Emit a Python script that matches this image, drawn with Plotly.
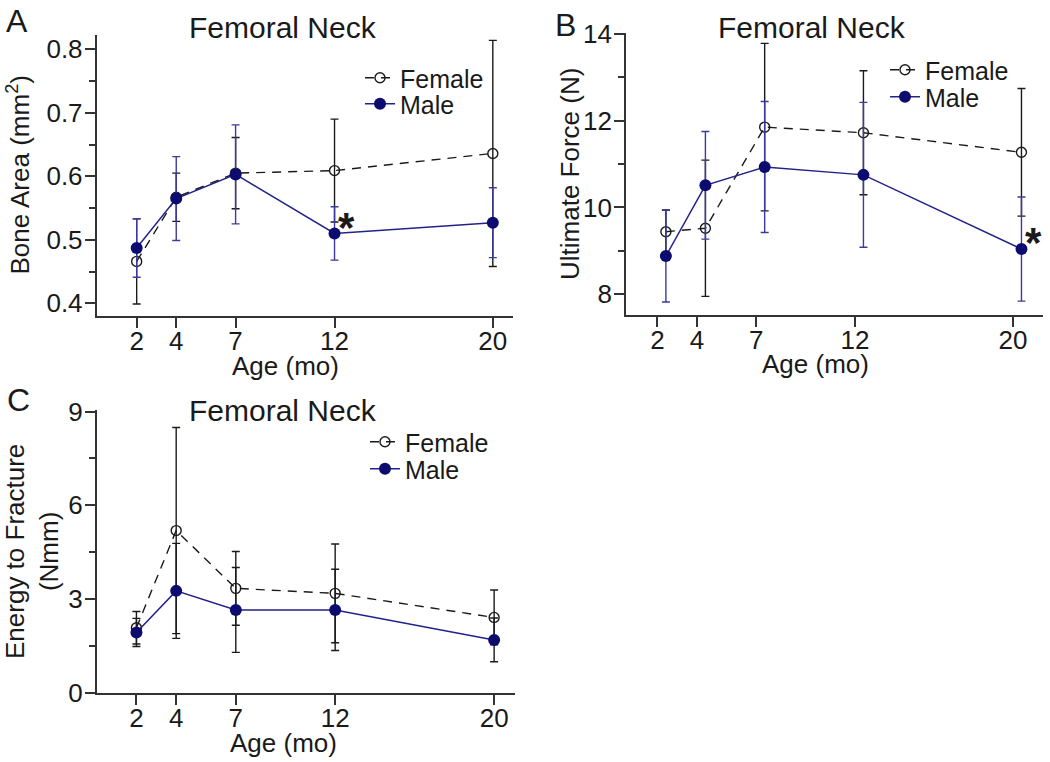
import plotly.graph_objects as go

# ---------------- data ----------------
ages = [2, 4, 7, 12, 20]
age_ticks = ["2", "4", "7", "12", "20"]

# Panel A: Bone Area (mm^2)
female_area = [0.466, 0.567, 0.605, 0.609, 0.636]
female_area_err = [0.067, 0.038, 0.056, 0.081, 0.178]
male_area = [0.487, 0.565, 0.603, 0.510, 0.527]
male_area_err = [0.046, 0.066, 0.078, 0.042, 0.055]

# Panel B: Ultimate Force (N)  (points drawn slightly right of the tick in the original)
female_force = [9.44, 9.52, 11.85, 11.72, 11.27]
female_force_err = [0.50, 1.57, 1.93, 1.43, 1.47]
male_force = [8.88, 10.51, 10.93, 10.75, 9.04]
male_force_err = [1.06, 1.24, 1.51, 1.67, 1.20]
B_X_SHIFT = 0.43

# Panel C: Energy to Fracture (Nmm)
female_energy = [2.08, 5.19, 3.34, 3.18, 2.41]
female_energy_err = [0.52, 3.30, 1.18, 1.58, 0.88]
male_energy = [1.93, 3.26, 2.65, 2.65, 1.69]
male_energy_err = [0.45, 1.52, 1.36, 1.30, 0.70]

# ---------------- styling ----------------
FONT = "Liberation Sans, Arial, sans-serif"
NAVY = "#0c0c70"
NAVY_LINE = "#22228a"
BAR_BLUE = "#3a3aa0"
BLACK = "#1a1a1a"
AXIS = "#333333"

W, H = 1050, 762


def px(x):
    return x / W


def py(y):
    return 1 - y / H


fig = go.Figure()


def add_panel(xs, fvals, ferr, mvals, merr, xa, ya, leg_f, leg_m, male_bar_color):
    fig.add_trace(go.Scatter(
        x=xs, y=fvals, name="Female", mode="lines+markers", showlegend=True,
        line=dict(color=BLACK, width=1.4, dash="9px,7px"),
        marker=dict(symbol="circle-open", size=10, color=BLACK, line=dict(width=1.4)),
        error_y=dict(type="data", array=ferr, visible=True, color=BLACK, thickness=1.4, width=4),
        xaxis=xa, yaxis=ya, legend=leg_f, cliponaxis=False,
    ))
    fig.add_trace(go.Scatter(
        x=xs, y=mvals, name="Male", mode="lines+markers", showlegend=True,
        line=dict(color=NAVY_LINE, width=1.5),
        marker=dict(symbol="circle", size=12, color=NAVY),
        error_y=dict(type="data", array=merr, visible=True, color=male_bar_color, thickness=1.4, width=4),
        xaxis=xa, yaxis=ya, legend=leg_m, cliponaxis=False,
    ))


add_panel(ages, female_area, female_area_err, male_area, male_area_err,
          "x", "y", "legend", "legend2", BAR_BLUE)
add_panel([a + B_X_SHIFT for a in ages], female_force, female_force_err, male_force, male_force_err,
          "x2", "y2", "legend3", "legend4", BAR_BLUE)
add_panel(ages, female_energy, female_energy_err, male_energy, male_energy_err,
          "x3", "y3", "legend5", "legend6", BLACK)

common_x = dict(
    tickmode="array", tickvals=ages, ticktext=age_ticks, ticks="outside", ticklen=10,
    tickwidth=1.5, tickcolor=AXIS, showline=True, linecolor=AXIS, linewidth=1.8,
    showgrid=False, zeroline=False, tickfont=dict(size=26, color=BLACK, family=FONT),
    automargin=False, ticklabelstandoff=-9,
)
common_y = dict(
    ticks="outside", ticklen=10, tickwidth=1.5, tickcolor=AXIS, showline=True,
    linecolor=AXIS, linewidth=1.8, showgrid=False, zeroline=False,
    tickfont=dict(size=26, color=BLACK, family=FONT), automargin=False,
    ticklabelstandoff=-3,
)


def minor(vals):
    return dict(ticks="outside", ticklen=6, tickwidth=1.5, tickcolor=AXIS,
                tickmode="array", tickvals=vals)


def leg(x, y):
    return dict(x=px(x), y=py(y), xanchor="left", yanchor="middle", visible=True,
                font=dict(size=25, family=FONT, color=BLACK), bgcolor="rgba(0,0,0,0)",
                borderwidth=0, itemwidth=30)


fig.update_layout(
    width=W, height=H, margin=dict(l=0, r=0, t=0, b=0, autoexpand=False),
    paper_bgcolor="white", plot_bgcolor="white", showlegend=True,
    font=dict(family=FONT, color=BLACK),
    xaxis=dict(common_x, domain=[px(96.7), px(513)], range=[-0.02, 21.02], anchor="y"),
    yaxis=dict(common_y, domain=[py(316), py(35)], range=[0.38, 0.8225], anchor="x",
               tickmode="array", tickvals=[0.4, 0.5, 0.6, 0.7, 0.8],
               ticktext=["0.4", "0.5", "0.6", "0.7", "0.8"],
               minor=minor([0.45, 0.55, 0.65, 0.75])),
    xaxis2=dict(common_x, domain=[px(626), px(1043)], range=[0.41, 21.52], anchor="y2"),
    yaxis2=dict(common_y, domain=[py(315), py(33)], range=[7.52, 14.02], anchor="x2",
                tickmode="array", tickvals=[8, 10, 12, 14], minor=minor([9, 11, 13])),
    xaxis3=dict(common_x, domain=[px(96.7), px(515)], range=[0.0, 21.05], anchor="y3"),
    yaxis3=dict(common_y, domain=[py(692.7), py(410)], range=[0, 9.05], anchor="x3",
                tickmode="array", tickvals=[0, 3, 6, 9], minor=minor([1.5, 4.5, 7.5])),
    legend=leg(360, 78), legend2=leg(360, 104),
    legend3=leg(885, 70), legend4=leg(885, 97),
    legend5=leg(365, 442), legend6=leg(365, 469),
)

ann = []
# Panel letters
for txt, x, y in [("A", 17, 21), ("B", 565, 25), ("C", 18, 400)]:
    ann.append(dict(text=txt, x=px(x), y=py(y), xref="paper", yref="paper",
                    showarrow=False, xanchor="center", yanchor="middle",
                    font=dict(size=32, family=FONT, color=BLACK)))
# Panel titles
for x, y in [(283, 28), (812, 27), (283, 410)]:
    ann.append(dict(text="Femoral Neck", x=px(x), y=py(y), xref="paper", yref="paper",
                    showarrow=False, xanchor="center", yanchor="middle",
                    font=dict(size=30, family=FONT, color=BLACK)))
# X-axis titles
for x, y in [(285, 366), (815, 364), (283, 743)]:
    ann.append(dict(text="Age (mo)", x=px(x), y=py(y), xref="paper", yref="paper",
                    showarrow=False, xanchor="center", yanchor="middle",
                    font=dict(size=26, family=FONT, color=BLACK)))
# Y-axis titles
ann.append(dict(text="Bone Area (mm<sup>2</sup>)", x=px(19), y=py(175.5), xref="paper", yref="paper",
                showarrow=False, textangle=-90, xanchor="center", yanchor="middle",
                font=dict(size=26, family=FONT, color=BLACK)))
ann.append(dict(text="Ultimate Force (N)", x=px(570), y=py(174), xref="paper", yref="paper",
                showarrow=False, textangle=-90, xanchor="center", yanchor="middle",
                font=dict(size=26, family=FONT, color=BLACK)))
ann.append(dict(text="Energy to Fracture<br>(Nmm)", x=px(32), y=py(552), xref="paper", yref="paper",
                showarrow=False, textangle=-90, xanchor="center", yanchor="middle",
                font=dict(size=26, family=FONT, color=BLACK)))
# Significance stars
ann.append(dict(text="<b>*</b>", x=12.62, y=0.520, xref="x", yref="y", showarrow=False,
                xanchor="center", yanchor="middle", font=dict(size=42, family=FONT, color=BLACK)))
ann.append(dict(text="<b>*</b>", x=21.03, y=9.19, xref="x2", yref="y2", showarrow=False,
                xanchor="center", yanchor="middle", font=dict(size=42, family=FONT, color=BLACK)))
fig.update_layout(annotations=ann)

fig.write_html("out.html", config={"displayModeBar": False},
               post_script="document.body.style.margin='0px';")
